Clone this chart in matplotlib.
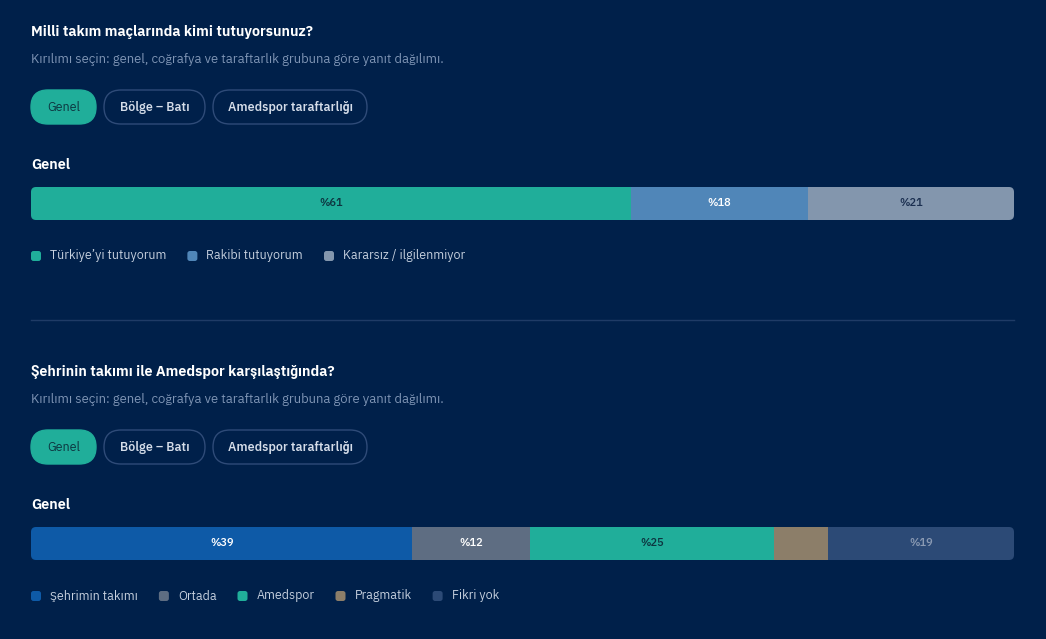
import matplotlib
matplotlib.use("Agg")
import matplotlib.pyplot as plt
from matplotlib.patches import FancyBboxPatch
from matplotlib.transforms import Affine2D

REG = ['IBM Plex Sans JP', 'IBM Plex Sans', 'DejaVu Sans']
BOLD = ['IBM Plex Sans JP', 'Roboto', 'DejaVu Sans']
plt.rcParams['font.family'] = REG

# data
q1_title = "Milli takım maçlarında kimi tutuyorsunuz?"
q1_labels = ["Türkiye’yi tutuyorum", "Rakibi tutuyorum", "Kararsız / ilgilenmiyor"]
q1_values = [61, 18, 21]

q2_title = "Şehrinin takımı ile Amedspor karşılaştığında?"
q2_labels = ["Şehrimin takımı", "Ortada", "Amedspor", "Pragmatik", "Fikri yok"]
q2_values = [39, 12, 25, 5.5, 19]

subtitle = "Kırılımı seçin: genel, coğrafya ve taraftarlık grubuna göre yanıt dağılımı."
tabs = ["Genel", "Bölge – Batı", "Amedspor taraftarlığı"]
group_name = "Genel"

# styles
BG = "#00204a"
q1_colors = ["#20ae9a", "#5086b8", "#8396ad"]
q1_text = ["#0d3540", "#ffffff", "#1b2f50"]
q2_colors = ["#0e5aa7", "#5e6d82", "#20ae9a", "#8c7e69", "#2c4a76"]
q2_text = ["#ffffff", "#ffffff", "#0d3540", "#ffffff", "#8a9ab3"]

W, H = 1046, 639
fig = plt.figure(figsize=(W / 100, H / 100), dpi=100)
fig.patch.set_facecolor(BG)
# pixel coords from top-left
T = Affine2D().scale(1 / W, -1 / H).translate(0, 1) + fig.transFigure


def pill(x, y, w, h, active, text):
    fc = "#20ae9a" if active else BG
    ec = "#20ae9a" if active else "#2f4b78"
    p = FancyBboxPatch((x, y), w, h, boxstyle="round,pad=0,rounding_size=17",
                       transform=T, fc=fc, ec=ec, lw=1.0)
    fig.patches.append(p)
    fig.text(x + w / 2, y + h / 2 + 0.5, text, transform=T, ha="center", va="center",
             fontsize=8.6, color="#0d3540" if active else "#d5dde9",
             fontweight="normal" if active else "semibold",
             family=REG if active else BOLD)


def section(top, title, labels, values, colors, tcolors):
    fig.text(31, top + 32, title, transform=T, va="center", fontsize=9.85,
             fontweight="bold", color="white", family=BOLD)
    fig.text(31, top + 59, subtitle, transform=T, va="center", fontsize=8.95,
             color="#8096b6")
    xs = [31, 104, 213]
    ws = [65, 101, 154]
    for i, t in enumerate(tabs):
        pill(xs[i], top + 90, ws[i], 34, i == 0, t)
    fig.text(31, top + 165, group_name, transform=T, va="center", fontsize=9.85,
             fontweight="bold", color="white", family=BOLD)

    # bar
    by = top + 187
    ax = fig.add_axes([31 / W, 1 - (by + 33) / H, 983 / W, 33 / H])
    ax.set_axis_off()
    total = sum(values)
    ax.set_xlim(0, total)
    ax.set_ylim(0, 1)
    clip = FancyBboxPatch((31, by), 983, 33, boxstyle="round,pad=0,rounding_size=5",
                          transform=T, fc="none", ec="none")
    left = 0
    for v, c, tc in zip(values, colors, tcolors):
        bars = ax.barh(0.5, v, left=left, height=1, color=c, lw=0)
        for b in bars:
            b.set_clip_path(clip)
        if v >= 8:
            ax.text(left + v / 2, 0.5, "%" + str(round(v)), ha="center", va="center",
                    fontsize=7.5, color=tc, fontweight="semibold")
        left += v

    # legend
    ly = top + 256
    x = 31
    r = fig.canvas.get_renderer()
    for lab, c in zip(labels, colors):
        sq = FancyBboxPatch((x, ly - 5), 10, 10, boxstyle="round,pad=0,rounding_size=2.5",
                            transform=T, fc=c, ec="none")
        fig.patches.append(sq)
        t = fig.text(x + 19, ly, lab, transform=T, va="center", fontsize=8.55,
                     color="#c8d2e0")
        bb = t.get_window_extent(renderer=r)
        x = x + 19 + bb.width + 21


section(0, q1_title, q1_labels, q1_values, q1_colors, q1_text)
fig.add_artist(plt.Line2D([31, 1014], [320, 320], transform=T, color="#1f3b66", lw=1))
section(340, q2_title, q2_labels, q2_values, q2_colors, q2_text)

fig.savefig("out.png", dpi=100, facecolor=BG)
